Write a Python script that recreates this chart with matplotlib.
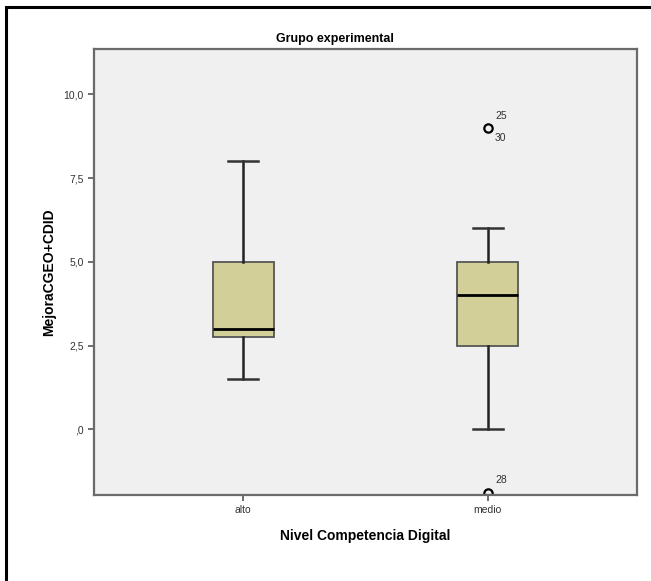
import matplotlib.pyplot as plt
from matplotlib.patches import Rectangle

# box statistics
groups = ["alto", "medio"]
q1 = [2.75, 2.5]
medians = [3.0, 4.0]
q3 = [5.0, 5.0]
whisker_low = [1.5, 0.0]
whisker_high = [8.0, 6.0]
fliers = [[], [9.0, -1.9]]

# case labels for the outliers
outlier_labels = [("25", 2, 9.0, 0.35), ("30", 2, 9.0, -0.3), ("28", 2, -1.9, 0.4)]

yticks = [0.0, 2.5, 5.0, 7.5, 10.0]
ytick_labels = [",0", "2,5", "5,0", "7,5", "10,0"]

plt.rcParams["font.family"] = ["Liberation Sans", "DejaVu Sans"]

W, H = 651, 581
fig = plt.figure(figsize=(W / 100, H / 100), dpi=100)

# outer black frame (cut off at right and bottom)
fig.patches.append(Rectangle((6 / W, -0.05), 1.1, 1 - 7 / H + 0.05, transform=fig.transFigure,
                             fill=False, edgecolor="black", linewidth=2.2))

ax = fig.add_axes([94 / W, (H - 495) / H, 543 / W, 446 / H])
ax.set_facecolor("#f0f0f0")

stats = []
for i, g in enumerate(groups):
    stats.append({"label": g, "q1": q1[i], "med": medians[i], "q3": q3[i],
                  "whislo": whisker_low[i], "whishi": whisker_high[i], "fliers": fliers[i]})

ax.bxp(stats, positions=[1, 2], widths=0.25, patch_artist=True,
       boxprops=dict(facecolor="#d3cf98", edgecolor="#555555", linewidth=1.3),
       medianprops=dict(color="black", linewidth=2),
       whiskerprops=dict(color="#222222", linewidth=1.8),
       capprops=dict(color="#333333", linewidth=1.8),
       capwidths=0.125,
       flierprops=dict(marker="o", markerfacecolor="none", markeredgecolor="black",
                       markeredgewidth=1.6, markersize=6))

for txt, pos, val, dy in outlier_labels:
    ax.text(pos + 0.03, val + dy, txt, fontsize=7.5, color="#333333", ha="left", va="center")

ax.set_xlim(0.39, 2.61)
ax.set_ylim(-1.96, 11.35)
ax.set_yticks(yticks)
ax.set_yticklabels(ytick_labels)
ax.set_xticks([1, 2])
ax.set_xticklabels(groups)
ax.tick_params(axis="both", colors="#555555", labelcolor="#333333", labelsize=7.5,
               length=4, width=1.2, direction="out")

for s in ax.spines.values():
    s.set_color("#6a6a6a")
    s.set_linewidth(1.6)

ax.set_ylabel("MejoraCGEO+CDID", fontsize=10, fontweight="bold", labelpad=5)
ax.set_xlabel("Nivel Competencia Digital", fontsize=10, fontweight="bold", labelpad=10)
fig.text(335 / W, 1 - 39 / H, "Grupo experimental", fontsize=9, fontweight="bold",
         ha="center", va="center")

fig.savefig("out.png", dpi=100)
